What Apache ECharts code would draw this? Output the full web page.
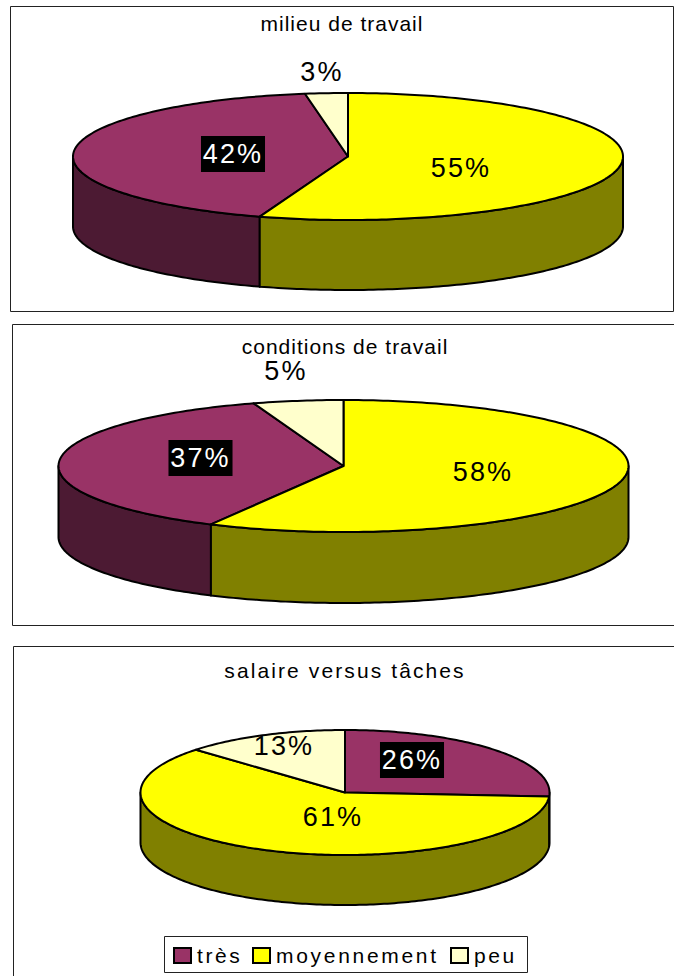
<!DOCTYPE html>
<html><head><meta charset="utf-8">
<style>html,body{margin:0;padding:0;background:#fff;overflow:hidden}#main{width:674px;height:976px}</style>
<script src="https://cdn.jsdelivr.net/npm/echarts@6/dist/echarts.min.js"></script>
</head><body><div id="main"></div>
<script>
// Data (read from slice boundaries; labels show the rounded percentage)
const chartTitles = ['milieu de travail', 'conditions de travail', 'salaire versus tâches'];
const categories = ['très', 'moyennement', 'peu'];
const tres = [42.3, 37.2, 26];
const moyennement = [55.2, 57.7, 61];
const peu = [2.5, 5.1, 13];
// Slice order clockwise from 12 o'clock in each chart
const sliceOrders = [
  ['moyennement', 'très', 'peu'],
  ['moyennement', 'très', 'peu'],
  ['très', 'moyennement', 'peu']
];
const valuesByCategory = { 'très': tres, 'moyennement': moyennement, 'peu': peu };

// Layout and style
const pies = [
  { cx: 348, cy: 156.5, rx: 275, ry: 63.5, depth: 70 },
  { cx: 343.5, cy: 466, rx: 285, ry: 66, depth: 71 },
  { cx: 345, cy: 792.5, rx: 204.5, ry: 62.5, depth: 50 }
];
const labelPos = {
  'très': [[233, 154], [200.5, 458], [412, 760]],
  'moyennement': [[461, 168], [483, 472], [333, 817]],
  'peu': [[322, 72], [286, 371], [284, 746]]
};
const topColors = { 'très': '#993366', 'moyennement': '#FFFF00', 'peu': '#FFFFCC' };
const sideColors = { 'très': '#4C1A33', 'moyennement': '#808000', 'peu': '#808066' };
const FONT = '"Liberation Sans", Arial, sans-serif';
const spacing = { 'milieu de travail': 1, 'conditions de travail': 1, 'salaire versus tâches': 2.1,
  'très': 2.6, 'moyennement': 2.7, 'peu': 2.6 };

function pt(p, deg, dy) {
  const t = deg * Math.PI / 180;
  return [p.cx + p.rx * Math.sin(t), p.cy - p.ry * Math.cos(t) + (dy || 0)];
}
function makeRender(name) {
  return function (params, api) {
    const idx = api.value(0), val = api.value(1), start = api.value(2);
    const p = pies[idx];
    const a0 = start * 3.6, a1 = (start + val) * 3.6;
    const children = [];
    const lo = Math.max(a0, 90), hi = Math.min(a1, 270);
    if (hi > lo) {
      const side = [];
      for (let d = lo; d < hi; d += 1) side.push(pt(p, d));
      side.push(pt(p, hi));
      for (let d = hi; d > lo; d -= 1) side.push(pt(p, d, p.depth));
      side.push(pt(p, lo, p.depth));
      children.push({ type: 'polygon', shape: { points: side },
        style: { fill: sideColors[name], stroke: '#000', lineWidth: 2, lineJoin: 'round' } });
    }
    const top = [[p.cx, p.cy]];
    for (let d = a0; d < a1; d += 1) top.push(pt(p, d));
    top.push(pt(p, a1));
    children.push({ type: 'polygon', shape: { points: top },
      style: { fill: topColors[name], stroke: '#000', lineWidth: 2, lineJoin: 'round' } });
    const lp = labelPos[name][idx];
    const dark = name === 'très';
    children.push({ type: 'text', z2: 50, style: {
      x: lp[0], y: lp[1], text: Math.round(val) + '%', align: 'center', verticalAlign: 'middle',
      font: '27px ' + FONT, lineHeight: 36, fill: dark ? '#fff' : '#000',
      backgroundColor: dark ? '#000' : 'transparent', padding: dark ? [0, 5] : 0
    } });
    return { type: 'group', children };
  };
}
function rows(name) {
  return valuesByCategory[name].map((v, i) => {
    let start = 0;
    for (const n of sliceOrders[i]) { if (n === name) break; start += valuesByCategory[n][i]; }
    return [i, v, start];
  });
}
const frames = [[10.5, 6.5, 663, 305], [12.5, 324.5, 700, 301], [13.5, 646.5, 700, 400]];
const titlePos = [[342, 13], [345, 336], [345, 660]];
const legendLeft = [173, 252, 450];

const chart = echarts.init(document.getElementById('main'), null, { renderer: 'svg' });
chart.setOption({
  animation: false,
  backgroundColor: '#fff',
  title: chartTitles.map((t, i) => ({
    text: t, left: titlePos[i][0], top: titlePos[i][1], textAlign: 'center', padding: 0,
    textStyle: { fontFamily: FONT, fontSize: 21, fontWeight: 'normal', color: '#000' }
  })),
  legend: categories.map((name, i) => ({
    left: legendLeft[i], top: 945, padding: 0, itemWidth: 17, itemHeight: 15,
    icon: 'rect', selectedMode: false, data: [name],
    itemStyle: { borderColor: '#000', borderWidth: 2 },
    textStyle: { fontFamily: FONT, fontSize: 21, color: '#000', padding: [0, 0, 0, 1] }
  })),
  graphic: [
    ...frames.map(f => ({ type: 'rect', silent: true, z: -1,
      shape: { x: f[0], y: f[1], width: f[2], height: f[3] },
      style: { fill: '#fff', stroke: '#222', lineWidth: 1 } })),
    { type: 'rect', silent: true, z: 0, shape: { x: 164.5, y: 936.5, width: 363, height: 36 },
      style: { fill: '#fff', stroke: '#222', lineWidth: 1 } }
  ],
  series: categories.map(name => ({
    name, type: 'custom', coordinateSystem: 'none', silent: true, z: 3,
    itemStyle: { color: topColors[name], borderColor: '#000', borderWidth: 2 },
    renderItem: makeRender(name),
    data: rows(name)
  }))
});
// Reference text is letter-spaced
document.querySelectorAll('#main svg text').forEach(t => {
  const s = t.textContent.trim();
  t.style.letterSpacing = (s in spacing ? spacing[s] : 2.2) + 'px';
});
</script></body></html>
